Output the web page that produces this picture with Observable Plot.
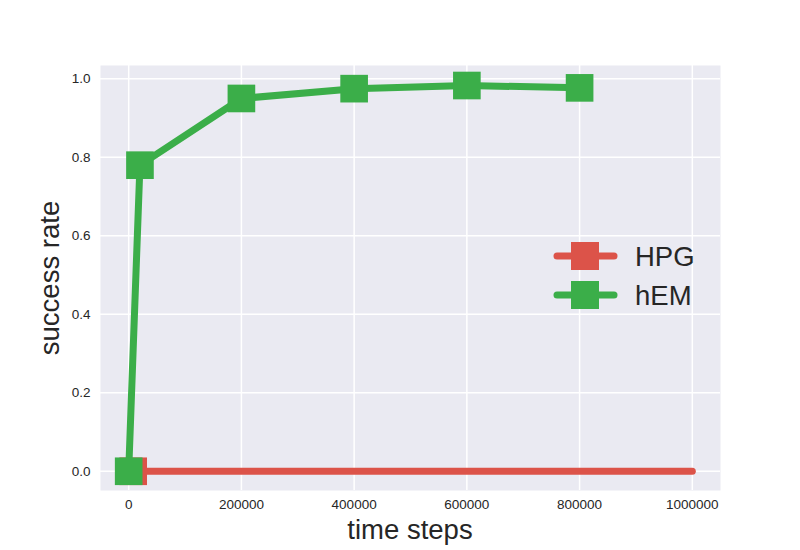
<!DOCTYPE html>
<html>
<head>
<meta charset="utf-8">
<script src="https://cdn.jsdelivr.net/npm/d3@7"></script>
<script src="https://cdn.jsdelivr.net/npm/@observablehq/plot@0.6"></script>
<style>
  html, body { margin: 0; padding: 0; background: #fff; }
  #chart { width: 800px; height: 550px; }
  svg { font-family: "Liberation Sans", Arial, sans-serif; }
</style>
</head>
<body>
<div id="chart"></div>
<script>
// Data
const hemSteps = [0, 20000, 200000, 400000, 600000, 800000];
const hemValues = [0.0, 0.78, 0.95, 0.975, 0.983, 0.977];
const hpgSteps = [0, 8000, 1000000];
const hpgValues = [0.0, 0.0, 0.0];
const hpgMarkerSteps = [8000];
const hpgMarkerValues = [0.0];
const xTicks = [0, 200000, 400000, 600000, 800000, 1000000];
const yTicks = [0.0, 0.2, 0.4, 0.6, 0.8, 1.0];
const seriesNames = ["HPG", "hEM"];
const seriesColors = ["#dc5349", "#3bae49"];

const hem = hemSteps.map((s, i) => ({x: s, y: hemValues[i]}));
const hpg = hpgSteps.map((s, i) => ({x: s, y: hpgValues[i]}));
const hpgM = hpgMarkerSteps.map((s, i) => ({x: s, y: hpgMarkerValues[i]}));

const W = 800, H = 550;
const chart = Plot.plot({
  width: W, height: H,
  marginLeft: 100, marginRight: 80, marginTop: 65, marginBottom: 60,
  style: {fontFamily: '"Liberation Sans", Arial, sans-serif', fontSize: "13.5px", color: "#262626", background: "white"},
  x: {domain: [-50000, 1050000]},
  y: {domain: [-0.049, 1.034]},
  marks: [
    Plot.frame({fill: "#EAEAF2", stroke: null}),
    Plot.gridX(xTicks, {stroke: "white", strokeOpacity: 1, strokeWidth: 1.5}),
    Plot.gridY(yTicks, {stroke: "white", strokeOpacity: 1, strokeWidth: 1.5}),
    Plot.axisX(xTicks, {tickSize: 0, tickPadding: 9, label: null, fill: "#262626", fontSize: 13.5, tickFormat: d => String(d)}),
    Plot.axisY(yTicks, {tickSize: 0, tickPadding: 10, label: null, fill: "#262626", fontSize: 13.5, tickFormat: d => d.toFixed(1)}),
    Plot.line(hpg, {x: "x", y: "y", stroke: seriesColors[0], strokeWidth: 7, strokeLinecap: "round", strokeLinejoin: "round"}),
    Plot.dot(hpgM, {x: "x", y: "y", symbol: "square", r: 15.6, fill: seriesColors[0], stroke: null}),
    Plot.line(hem, {x: "x", y: "y", stroke: seriesColors[1], strokeWidth: 7, strokeLinecap: "round", strokeLinejoin: "round"}),
    Plot.dot(hem, {x: "x", y: "y", symbol: "square", r: 15.6, fill: seriesColors[1], stroke: null})
  ]
});
document.getElementById("chart").appendChild(chart);

const svg = d3.select(chart);
// Axis labels
svg.append("text").attr("x", 410).attr("y", 539).attr("text-anchor", "middle")
  .attr("font-size", 27.5).attr("fill", "#262626").text("time steps");
svg.append("text").attr("transform", "translate(59,278) rotate(-90)").attr("text-anchor", "middle")
  .attr("font-size", 27.5).attr("fill", "#262626").text("success rate");

// Legend
const legendY = [256, 295];
seriesNames.forEach((name, i) => {
  const g = svg.append("g");
  g.append("line").attr("x1", 557).attr("x2", 614).attr("y1", legendY[i]).attr("y2", legendY[i])
    .attr("stroke", seriesColors[i]).attr("stroke-width", 7).attr("stroke-linecap", "round");
  g.append("rect").attr("x", 571).attr("y", legendY[i] - 14).attr("width", 28).attr("height", 28)
    .attr("fill", seriesColors[i]);
  g.append("text").attr("x", 635).attr("y", legendY[i] + 10).attr("font-size", 27.5)
    .attr("text-anchor", "start").attr("fill", "#262626").text(name);
});
</script>
</body>
</html>
